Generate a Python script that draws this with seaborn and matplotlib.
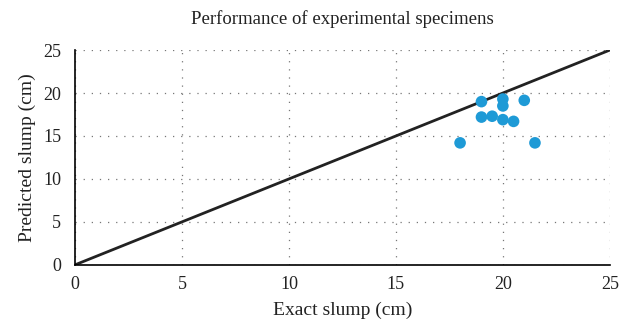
import matplotlib
matplotlib.use("Agg")
import matplotlib.pyplot as plt
import seaborn as sns
import pandas as pd

exact = [19, 20, 20, 21, 19, 19.5, 20, 20.5, 18, 21.5]
predicted = [19.0, 19.3, 18.5, 19.15, 17.2, 17.3, 16.9, 16.7, 14.2, 14.2]
line_x = [0, 25]
line_y = [0, 25]
ticks = [0, 5, 10, 15, 20, 25]

sns.set_style("white")
plt.rcParams['font.family'] = ['Liberation Serif', 'DejaVu Serif']

fig = plt.figure(figsize=(6.3, 3.23), dpi=100)
ax = fig.add_axes([0.119, 0.18, 0.849, 0.665])

df = pd.DataFrame({"exact": exact, "predicted": predicted})
sns.lineplot(x=line_x, y=line_y, ax=ax, color="#222222", linewidth=2, zorder=2)
sns.scatterplot(data=df, x="exact", y="predicted", ax=ax, color="#1E9AD6",
                s=70, edgecolor="none", zorder=3)

ax.set_xlim(0, 25)
ax.set_ylim(0, 25)
ax.set_xticks(ticks)
ax.set_yticks(ticks)
ax.grid(True, linestyle=(0, (1, 5.5)), color="#777777", linewidth=0.9)
for s in ["top", "right"]:
    ax.spines[s].set_visible(False)
for s in ["left", "bottom"]:
    ax.spines[s].set_color("black")
    ax.spines[s].set_linewidth(1.2)
ax.tick_params(axis="y", labelsize=13, length=0, pad=10, colors="#222222")
ax.tick_params(axis="x", labelsize=13, length=0, pad=8, colors="#222222")
ax.set_xlabel("Exact slump (cm)", fontsize=14, color="#222222", labelpad=6)
ax.set_ylabel("Predicted slump (cm)", fontsize=14, color="#222222", labelpad=5)
ax.set_title("Performance of experimental specimens", fontsize=13.5, color="#222222", pad=19)

fig.savefig("out.png", dpi=100)
